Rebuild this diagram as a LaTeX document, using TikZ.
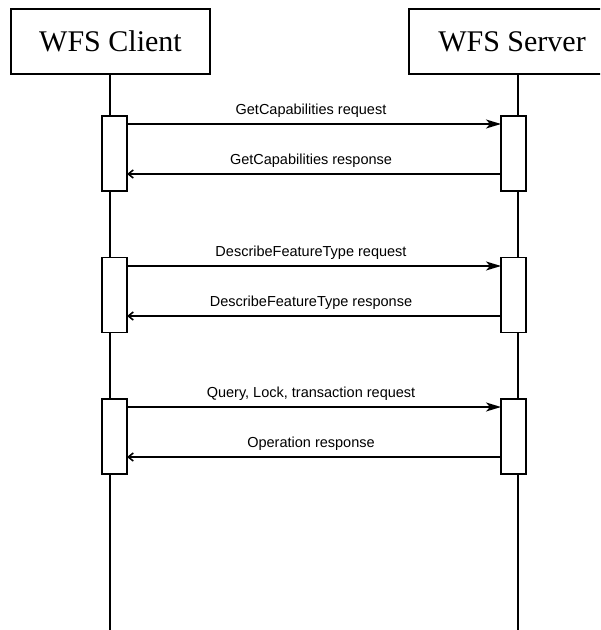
\documentclass[tikz,border=0pt]{standalone}
\usepackage{fontspec}
\setmainfont{Liberation Serif}
\newfontfamily\labfont{Liberation Sans}
\usetikzlibrary{arrows.meta}
\tikzset{
  actor/.style={draw, line width=0.8pt, fill=white, inner sep=0pt, outer sep=0pt,
    font=\fontsize{15}{18}\selectfont},
  act/.style={draw, line width=0.8pt, fill=white, inner sep=0pt, outer sep=0pt,
    minimum width=12.5pt, minimum height=37.5pt},
  life/.style={line width=0.8pt},
  req/.style={line width=0.8pt, -{Stealth[length=7.5pt,width=4.5pt,inset=2pt]}},
  resp/.style={line width=0.8pt, -{Straight Barb[length=2.5pt,width=4pt]}},
  lab/.style={font=\labfont\fontsize{7.25}{9}\selectfont, inner sep=0pt}
}
\begin{document}
\begin{tikzpicture}[x=0.5pt,y=-0.5pt]
\clip (0,0) rectangle (600,630);
\fill[white] (0,0) rectangle (600,630);
% actors
\node[actor, minimum width=99.5pt, minimum height=32.5pt] (client) at (110.5,41.5) {WFS Client};
\node[actor, minimum width=103pt, minimum height=32.5pt] (server) at (512,41.5) {WFS Server};
% lifeline ends
\coordinate (ctop) at (110,74);
\coordinate (cbot) at (110,630);
\coordinate (stop) at (518,74);
\coordinate (sbot) at (518,630);
\draw[life] (ctop) -- (cbot);
\draw[life] (stop) -- (sbot);
% activations
\node[act] (ca1) at (114.5,153.5) {};
\node[act] (sa1) at (513.5,153.5) {};
\node[act] (ca2) at (114.5,295) {};
\node[act] (sa2) at (513.5,295) {};
\node[act] (ca3) at (114.5,436.5) {};
\node[act] (sa3) at (513.5,436.5) {};
% message levels
\coordinate (m1) at (0,124);
\coordinate (m2) at (0,174);
\coordinate (m3) at (0,266);
\coordinate (m4) at (0,316);
\coordinate (m5) at (0,407);
\coordinate (m6) at (0,457);
\draw[req] (ca1.east |- m1) -- (sa1.west |- m1);
\draw[resp] (sa1.west |- m2) -- (ca1.east |- m2);
\draw[req] (ca2.east |- m3) -- (sa2.west |- m3);
\draw[resp] (sa2.west |- m4) -- (ca2.east |- m4);
\draw[req] (ca3.east |- m5) -- (sa3.west |- m5);
\draw[resp] (sa3.west |- m6) -- (ca3.east |- m6);
% labels
\node[lab] (l1) at (311,111) {GetCapabilities request};
\node[lab] (l2) at (311,161) {GetCapabilities response};
\node[lab] (l3) at (311,253) {DescribeFeatureType request};
\node[lab] (l4) at (311,303) {DescribeFeatureType response};
\node[lab] (l5) at (311,394) {Query, Lock, transaction request};
\node[lab] (l6) at (311,444) {Operation response};
\end{tikzpicture}
\end{document}
